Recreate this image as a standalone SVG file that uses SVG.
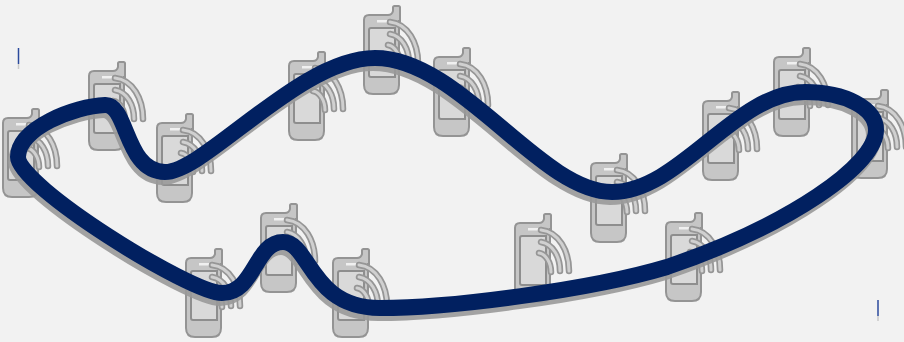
<svg xmlns="http://www.w3.org/2000/svg" width="904" height="342" viewBox="0 0 904 342">
<style>
.b{fill:#c6c6c6;stroke:#949494;stroke-width:2}
.s{fill:#d9d9d9;stroke:#8e8e8e;stroke-width:2}
.a{fill:none;stroke:#969696;stroke-width:6.5;stroke-linecap:round}
.a2{fill:none;stroke:#d0d0d0;stroke-width:3;stroke-linecap:round}
.w{fill:#f0f0f0}
.r{fill:none;stroke-linejoin:round;stroke-linecap:round}
</style>
<defs>
<g id="phone">
<path class="b" d="M5,10H24Q28,10 29,6V2.500Q29,1 30.500,1H34.500Q36,1 36,2.500V16L35,16V80Q35,89 26,89H9Q0,89 0,80V15Q0,10 5,10Z"/>
<path class="s" d="M5,25Q5,23 7,23H31V72H7Q5,72 5,70Z"/>
<rect class="w" x="13" y="15" width="10" height="2.500"/>
<path class="a" d="M26,17C44,19 54,38 54,58"/><path class="a2" d="M26,17C44,19 54,38 54,58"/>
<path class="a" d="M26,29C38,31 45,44 45,58"/><path class="a2" d="M26,29C38,31 45,44 45,58"/>
<path class="a" d="M24,40C31,41 36,50 36,59"/><path class="a2" d="M24,40C31,41 36,50 36,59"/>
</g>
<path id="ringpath" d="M18,157C18,128 75,106 105,105C128,104 125,172 165,172C205,172 300,58 375,58C460,58 540,192 612,192C680,192 735,92 805,92C845,92 876,108 876,130C876,165 790,225 667,267C590,290 450,308 380,308C310,308 310,242 283,242C255,242 255,293 222,293C190,293 18,186 18,157Z"/>
</defs>
<rect width="904" height="342" fill="#f2f2f2"/>
<g id="node-1"><use href="#phone" x="3" y="108"/></g>
<g id="node-2"><use href="#phone" x="89" y="61"/></g>
<g id="node-3"><use href="#phone" x="157" y="113"/></g>
<g id="node-4"><use href="#phone" x="289" y="51"/></g>
<g id="node-5"><use href="#phone" x="364" y="5"/></g>
<g id="node-6"><use href="#phone" x="434" y="47"/></g>
<g id="node-7"><use href="#phone" x="591" y="153"/></g>
<g id="node-8"><use href="#phone" x="703" y="91"/></g>
<g id="node-9"><use href="#phone" x="774" y="47"/></g>
<g id="node-10"><use href="#phone" x="852" y="89"/></g>
<g id="node-11"><use href="#phone" x="186" y="248"/></g>
<g id="node-12"><use href="#phone" x="261" y="203"/></g>
<g id="node-13"><use href="#phone" x="333" y="248"/></g>
<g id="node-14"><use href="#phone" x="515" y="213"/></g>
<g id="node-15"><use href="#phone" x="666" y="212"/></g>
<g id="connectors">
<use href="#ringpath" class="r" transform="translate(-2,5)" stroke="#999999" stroke-opacity="0.9" stroke-width="16"/>
<use href="#ringpath" class="r" stroke="#012060" stroke-width="16"/>
<path stroke="#2b4a9c" stroke-width="1.500" d="M18.500,48V64"/>
<path stroke="#c9c9c9" stroke-width="1.500" d="M18.500,64V69"/>
<path stroke="#2b4a9c" stroke-width="1.500" d="M878,300V316"/>
<path stroke="#c9c9c9" stroke-width="1.500" d="M878,316V321"/>
</g>
</svg>
